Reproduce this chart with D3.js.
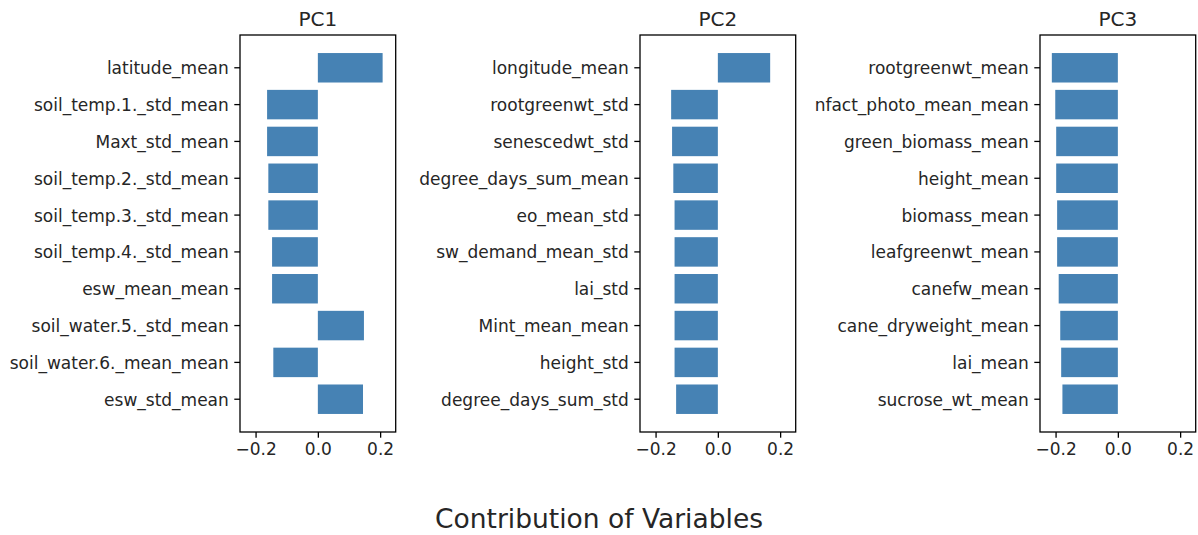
<!DOCTYPE html>
<html>
<head>
<meta charset="utf-8">
<script src="https://cdn.jsdelivr.net/npm/d3@7"></script>
<style>
  html, body { margin: 0; padding: 0; background: #fff; }
  svg { display: block; }
  text { font-family: "DejaVu Sans", sans-serif; fill: #262626; }
</style>
</head>
<body>
<svg id="chart" width="1198" height="535"></svg>
<script>
// Top-10 loadings per principal component
const pc1Vars = ["latitude_mean", "soil_temp.1._std_mean", "Maxt_std_mean", "soil_temp.2._std_mean",
  "soil_temp.3._std_mean", "soil_temp.4._std_mean", "esw_mean_mean", "soil_water.5._std_mean",
  "soil_water.6._mean_mean", "esw_std_mean"];
const pc1Vals = [0.208, -0.163, -0.163, -0.159, -0.159, -0.147, -0.147, 0.148, -0.143, 0.145];

const pc2Vars = ["longitude_mean", "rootgreenwt_std", "senescedwt_std", "degree_days_sum_mean",
  "eo_mean_std", "sw_demand_mean_std", "lai_std", "Mint_mean_mean", "height_std", "degree_days_sum_std"];
const pc2Vals = [0.168, -0.150, -0.147, -0.143, -0.139, -0.139, -0.139, -0.139, -0.139, -0.134];

const pc3Vars = ["rootgreenwt_mean", "nfact_photo_mean_mean", "green_biomass_mean", "height_mean",
  "biomass_mean", "leafgreenwt_mean", "canefw_mean", "cane_dryweight_mean", "lai_mean", "sucrose_wt_mean"];
const pc3Vals = [-0.212, -0.201, -0.198, -0.198, -0.195, -0.195, -0.190, -0.185, -0.182, -0.178];

const panelTitles = ["PC1", "PC2", "PC3"];
const xTicks = [-0.2, 0.0, 0.2];
const xDomain = [-0.25, 0.25];
const figureLabel = "Contribution of Variables";

const panels = [
  { title: panelTitles[0], vars: pc1Vars, vals: pc1Vals },
  { title: panelTitles[1], vars: pc2Vars, vals: pc2Vals },
  { title: panelTitles[2], vars: pc3Vars, vals: pc3Vals }
];

const svg = d3.select("#chart");
const W = 1198, H = 535;
const axLefts = [240, 640, 1040];
const axW = 155.7, axTop = 35, axBottom = 432;
const barColor = "#4682b4";
const tickFont = 17;

panels.forEach((p, k) => {
  const left = axLefts[k];
  const x = d3.scaleLinear().domain(xDomain).range([left, left + axW]);
  const y = d3.scaleBand().domain(p.vars).range([axTop, axBottom])
    .paddingInner(0.2).paddingOuter(0.49);

  const g = svg.append("g");

  // bars
  g.selectAll("rect.bar").data(p.vars.map((v, i) => ({ name: v, value: p.vals[i] })))
    .join("rect")
    .attr("class", "bar")
    .attr("x", d => x(Math.min(0, d.value)))
    .attr("width", d => Math.abs(x(d.value) - x(0)))
    .attr("y", d => y(d.name))
    .attr("height", y.bandwidth())
    .attr("fill", barColor);

  // frame
  g.append("rect")
    .attr("x", left).attr("y", axTop)
    .attr("width", axW).attr("height", axBottom - axTop)
    .attr("fill", "none").attr("stroke", "#000").attr("stroke-width", 1.3);

  // x axis
  const xa = g.append("g").attr("transform", `translate(0,${axBottom})`)
    .call(d3.axisBottom(x).tickValues(xTicks).tickFormat(d3.format(".1f")).tickSize(5.7).tickPadding(5.5));
  xa.select(".domain").remove();
  xa.selectAll(".tick line").attr("stroke", "#000").attr("stroke-width", 1.3);
  xa.selectAll(".tick text").attr("font-size", tickFont).attr("font-family", "DejaVu Sans").attr("fill", "#262626");

  // y axis
  const ya = g.append("g").attr("transform", `translate(${left},0)`)
    .call(d3.axisLeft(y).tickSize(5.7).tickPadding(5.5));
  ya.select(".domain").remove();
  ya.selectAll(".tick line").attr("stroke", "#000").attr("stroke-width", 1.3);
  ya.selectAll(".tick text").attr("font-size", tickFont).attr("font-family", "DejaVu Sans")
    .attr("fill", "#262626").attr("dy", "0.38em");

  // panel title
  g.append("text")
    .attr("x", left + axW / 2).attr("y", 25.5)
    .attr("text-anchor", "middle")
    .attr("font-size", 20)
    .text(p.title);
});

svg.append("text")
  .attr("x", W / 2).attr("y", 528)
  .attr("text-anchor", "middle")
  .attr("font-size", 26.5)
  .text(figureLabel);
</script>
</body>
</html>
